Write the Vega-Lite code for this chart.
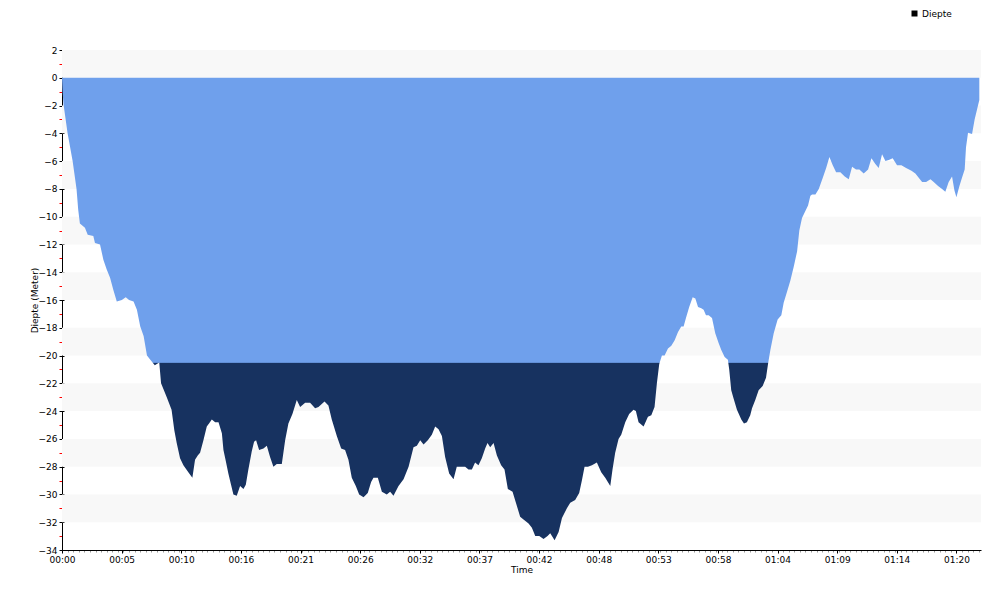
{
  "$schema": "https://vega.github.io/schema/vega-lite/v6.json",
  "width": 919,
  "height": 500,
  "autosize": "none",
  "padding": {"left": 62, "top": 50, "right": 19, "bottom": 50},
  "background": "white",
  "config": {
    "view": {"stroke": null},
    "font": "DejaVu Sans",
    "axis": {"labelFont": "DejaVu Sans", "titleFont": "DejaVu Sans", "labelFontSize": 9, "titleFontSize": 9, "titleFontWeight": "normal", "labelColor": "#000", "titleColor": "#000", "grid": false}
  },
  "datasets": {
    "bands": [
      {"lo": 0, "hi": 2}, {"lo": -4, "hi": -2}, {"lo": -8, "hi": -6}, {"lo": -12, "hi": -10},
      {"lo": -16, "hi": -14}, {"lo": -20, "hi": -18}, {"lo": -24, "hi": -22}, {"lo": -28, "hi": -26},
      {"lo": -32, "hi": -30}
    ],
    "profile": [
      {"t":0,"d":0},{"t":0.05,"d":-1.0},{"t":0.15,"d":-2.0},{"t":0.5,"d":-4.0},{"t":0.95,"d":-6.0},{"t":1.3,"d":-8.0},{"t":1.45,"d":-9.5},{"t":1.6,"d":-10.5},
      {"t":2.05,"d":-10.8},{"t":2.3,"d":-11.3},{"t":2.8,"d":-11.4},{"t":2.95,"d":-11.9},{"t":3.4,"d":-12.0},{"t":3.7,"d":-13.1},{"t":4.0,"d":-13.8},{"t":4.3,"d":-14.4},
      {"t":4.6,"d":-15.3},{"t":4.9,"d":-16.1},{"t":5.35,"d":-16.0},{"t":5.7,"d":-15.8},{"t":6.0,"d":-16.0},{"t":6.4,"d":-16.1},{"t":6.7,"d":-16.7},{"t":7.0,"d":-17.9},
      {"t":7.3,"d":-18.6},{"t":7.6,"d":-20.0},{"t":7.9,"d":-20.3},{"t":8.3,"d":-20.7},{"t":8.7,"d":-20.5},{"t":8.86,"d":-22.0},{"t":9.07,"d":-22.4},{"t":9.37,"d":-23.0},
      {"t":9.8,"d":-23.9},{"t":10.05,"d":-25.4},{"t":10.26,"d":-26.3},{"t":10.56,"d":-27.4},{"t":10.86,"d":-27.9},{"t":11.3,"d":-28.4},{"t":11.66,"d":-28.8},{"t":11.9,"d":-27.5},
      {"t":12.14,"d":-27.2},{"t":12.35,"d":-27.0},{"t":12.65,"d":-26.1},{"t":12.95,"d":-25.1},{"t":13.15,"d":-24.9},{"t":13.4,"d":-24.6},{"t":13.7,"d":-24.8},{"t":14.0,"d":-24.8},
      {"t":14.3,"d":-25.6},{"t":14.44,"d":-26.8},{"t":14.65,"d":-27.6},{"t":14.88,"d":-28.5},{"t":15.12,"d":-29.3},{"t":15.33,"d":-30.0},{"t":15.63,"d":-30.1},{"t":15.93,"d":-29.4},
      {"t":16.23,"d":-29.6},{"t":16.44,"d":-29.3},{"t":16.67,"d":-28.2},{"t":16.97,"d":-26.9},{"t":17.18,"d":-26.2},{"t":17.36,"d":-26.1},{"t":17.63,"d":-26.8},{"t":18.02,"d":-26.7},
      {"t":18.32,"d":-26.5},{"t":18.61,"d":-27.3},{"t":18.91,"d":-28.0},{"t":19.21,"d":-27.8},{"t":19.66,"d":-27.8},{"t":19.96,"d":-26.1},{"t":20.25,"d":-24.9},{"t":20.61,"d":-24.2},
      {"t":21.0,"d":-23.2},{"t":21.3,"d":-23.7},{"t":21.75,"d":-23.4},{"t":22.19,"d":-23.4},{"t":22.64,"d":-23.8},{"t":22.94,"d":-23.7},{"t":23.48,"d":-23.3},{"t":23.83,"d":-23.6},
      {"t":24.13,"d":-24.6},{"t":24.58,"d":-25.8},{"t":24.97,"d":-26.7},{"t":25.32,"d":-26.8},{"t":25.62,"d":-27.5},{"t":25.92,"d":-28.8},{"t":26.28,"d":-29.4},{"t":26.58,"d":-30.0},
      {"t":26.97,"d":-30.2},{"t":27.35,"d":-29.9},{"t":27.65,"d":-29.1},{"t":27.86,"d":-28.8},{"t":28.25,"d":-28.8},{"t":28.61,"d":-29.8},{"t":29.05,"d":-30.0},{"t":29.35,"d":-29.8},
      {"t":29.65,"d":-30.1},{"t":30.1,"d":-29.4},{"t":30.55,"d":-28.9},{"t":31.0,"d":-28.0},{"t":31.44,"d":-26.6},{"t":31.74,"d":-26.5},{"t":32.04,"d":-26.1},{"t":32.34,"d":-26.4},
      {"t":32.72,"d":-26.1},{"t":33.08,"d":-25.7},{"t":33.38,"d":-25.1},{"t":33.68,"d":-25.3},{"t":33.98,"d":-25.8},{"t":34.27,"d":-27.3},{"t":34.63,"d":-28.5},{"t":35.02,"d":-28.9},
      {"t":35.31,"d":-28.0},{"t":35.61,"d":-28.0},{"t":36.06,"d":-28.0},{"t":36.36,"d":-28.2},{"t":36.66,"d":-28.2},{"t":36.95,"d":-27.7},{"t":37.25,"d":-27.9},{"t":37.55,"d":-27.4},
      {"t":37.85,"d":-26.7},{"t":38.06,"d":-26.3},{"t":38.3,"d":-26.6},{"t":38.6,"d":-26.3},{"t":38.9,"d":-27.2},{"t":39.28,"d":-27.9},{"t":39.58,"d":-28.2},{"t":39.88,"d":-29.6},
      {"t":40.3,"d":-29.8},{"t":40.6,"d":-30.6},{"t":40.98,"d":-31.6},{"t":41.28,"d":-31.8},{"t":41.73,"d":-32.1},{"t":42.03,"d":-32.4},{"t":42.33,"d":-33.0},{"t":42.69,"d":-33.0},
      {"t":43.07,"d":-33.2},{"t":43.43,"d":-33.0},{"t":43.67,"d":-32.8},{"t":44.06,"d":-33.3},{"t":44.42,"d":-32.7},{"t":44.72,"d":-31.7},{"t":45.16,"d":-31.0},{"t":45.46,"d":-30.6},
      {"t":45.9,"d":-30.4},{"t":46.26,"d":-29.9},{"t":46.5,"d":-29.0},{"t":46.74,"d":-28.0},{"t":47.04,"d":-28.0},{"t":47.4,"d":-27.9},{"t":47.84,"d":-27.7},{"t":48.23,"d":-28.4},
      {"t":48.59,"d":-28.8},{"t":49.04,"d":-29.4},{"t":49.24,"d":-28.2},{"t":49.48,"d":-27.0},{"t":49.78,"d":-26.0},{"t":50.02,"d":-25.7},{"t":50.38,"d":-24.8},{"t":50.73,"d":-24.2},
      {"t":51.12,"d":-23.9},{"t":51.33,"d":-24.0},{"t":51.57,"d":-24.8},{"t":52.02,"d":-25.1},{"t":52.41,"d":-24.4},{"t":52.71,"d":-24.3},{"t":53.0,"d":-23.7},{"t":53.21,"d":-22.0},
      {"t":53.42,"d":-20.6},{"t":53.66,"d":-20.0},{"t":53.9,"d":-20.0},{"t":54.2,"d":-19.5},{"t":54.5,"d":-19.3},{"t":54.8,"d":-18.9},{"t":55.1,"d":-18.3},{"t":55.39,"d":-17.9},
      {"t":55.6,"d":-17.9},{"t":55.81,"d":-17.3},{"t":56.1,"d":-16.5},{"t":56.41,"d":-15.8},{"t":56.65,"d":-15.9},{"t":56.89,"d":-16.5},{"t":57.18,"d":-16.6},{"t":57.39,"d":-16.7},
      {"t":57.6,"d":-17.1},{"t":57.84,"d":-17.1},{"t":58.14,"d":-17.3},{"t":58.43,"d":-18.4},{"t":58.73,"d":-19.1},{"t":58.97,"d":-19.6},{"t":59.27,"d":-20.1},{"t":59.56,"d":-20.3},
      {"t":59.68,"d":-21.0},{"t":59.86,"d":-22.5},{"t":60.07,"d":-23.1},{"t":60.37,"d":-23.9},{"t":60.76,"d":-24.6},{"t":61.0,"d":-24.9},{"t":61.26,"d":-24.8},{"t":61.56,"d":-24.3},
      {"t":61.72,"d":-23.8},{"t":62.01,"d":-23.2},{"t":62.31,"d":-22.5},{"t":62.67,"d":-22.2},{"t":62.97,"d":-21.6},{"t":63.15,"d":-20.6},{"t":63.36,"d":-19.6},{"t":63.66,"d":-18.4},
      {"t":64.01,"d":-17.4},{"t":64.34,"d":-17.1},{"t":64.55,"d":-16.2},{"t":64.85,"d":-15.4},{"t":65.15,"d":-14.6},{"t":65.45,"d":-13.6},{"t":65.75,"d":-12.5},{"t":65.95,"d":-11.0},
      {"t":66.19,"d":-10.1},{"t":66.49,"d":-9.6},{"t":66.73,"d":-9.2},{"t":66.94,"d":-8.5},{"t":67.09,"d":-8.4},{"t":67.39,"d":-8.4},{"t":67.69,"d":-8.0},{"t":68.05,"d":-7.2},
      {"t":68.35,"d":-6.5},{"t":68.64,"d":-5.7},{"t":68.94,"d":-6.3},{"t":69.24,"d":-6.8},{"t":69.62,"d":-6.8},{"t":70.01,"d":-7.1},{"t":70.37,"d":-7.3},{"t":70.67,"d":-6.4},
      {"t":71.02,"d":-6.6},{"t":71.32,"d":-6.6},{"t":71.71,"d":-6.9},{"t":72.1,"d":-6.6},{"t":72.4,"d":-5.8},{"t":72.75,"d":-6.2},{"t":73.05,"d":-6.5},{"t":73.35,"d":-5.5},
      {"t":73.65,"d":-6.0},{"t":74.0,"d":-5.9},{"t":74.3,"d":-5.8},{"t":74.69,"d":-6.3},{"t":75.08,"d":-6.3},{"t":75.5,"d":-6.5},{"t":75.98,"d":-6.7},{"t":76.33,"d":-6.9},
      {"t":76.63,"d":-7.2},{"t":76.93,"d":-7.5},{"t":77.29,"d":-7.5},{"t":77.68,"d":-7.3},{"t":77.97,"d":-7.5},{"t":78.36,"d":-7.8},{"t":78.72,"d":-8.0},{"t":79.01,"d":-8.2},
      {"t":79.31,"d":-7.5},{"t":79.61,"d":-7.1},{"t":79.82,"d":-8.1},{"t":80.0,"d":-8.6},{"t":80.27,"d":-7.8},{"t":80.5,"d":-7.2},{"t":80.74,"d":-6.6},{"t":80.86,"d":-5.0},
      {"t":81.04,"d":-3.95},{"t":81.4,"d":-4.05},{"t":81.63,"d":-3.0},{"t":81.84,"d":-2.3},{"t":82.05,"d":-1.6}
    ]
  },
  "resolve": {"axis": {"x": "independent", "y": "independent"}},
  "layer": [
    {
      "data": {"name": "bands"},
      "mark": {"type": "rect", "fill": "#f8f8f8"},
      "encoding": {
        "y": {"field": "lo", "type": "quantitative", "scale": {"domain": [-34, 2], "nice": false, "zero": false}, "axis": null},
        "y2": {"field": "hi"}
      }
    },
    {
      "data": {"name": "profile"},
      "mark": {"type": "point", "filled": true, "opacity": 0},
      "encoding": {
        "x": {"field": "t", "type": "quantitative", "axis": {"orient": "bottom", "title": null, "labels": false, "domain": false, "tickCount": 164, "tickSize": 2, "tickColor": "#999"}},
        "y": {"field": "d", "type": "quantitative", "axis": {"orient": "left", "title": null, "labels": false, "domain": false, "values": [1,-1,-3,-5,-7,-9,-11,-13,-15,-17,-19,-21,-23,-25,-27,-29,-31,-33], "tickSize": 3, "tickColor": "#ff0000"}},
        "color": {"datum": "Diepte", "scale": {"range": ["#000000"]}, "legend": {"title": null, "orient": "none", "legendX": 848, "legendY": -41, "symbolType": "square", "symbolSize": 36, "symbolOpacity": 1, "symbolStrokeWidth": 0, "labelFont": "DejaVu Sans", "labelFontSize": 9, "labelColor": "#000", "labelOffset": 3}}
      }
    },
    {
      "mark": {"type": "rule", "color": "#9c9cff", "strokeDash": [2, 2], "strokeWidth": 1.5},
      "encoding": {"y": {"datum": -20.5, "type": "quantitative",
        "axis": {"orient": "left", "title": null, "labels": false, "domain": false, "tickSize": -2, "tickColor": "#000",
                 "values": [2,0,-2,-4,-6,-8,-10,-12,-14,-16,-18,-20,-22,-24,-26,-28,-30,-32,-34]}}}
    },
    {
      "data": {"name": "profile"},
      "mark": {
        "type": "area",
        "interpolate": "linear",
        "fill": {
          "gradient": "linear", "x1": 0, "y1": 0, "x2": 0, "y2": 1,
          "stops": [
            {"offset": 0, "color": "#6fa0ec"},
            {"offset": 0.6156, "color": "#6fa0ec"},
            {"offset": 0.6157, "color": "#173260"},
            {"offset": 1, "color": "#173260"}
          ]
        }
      },
      "encoding": {
        "x": {"field": "t", "type": "quantitative", "scale": {"domain": [0, 82.2], "nice": false, "zero": false},
              "axis": {"orient": "bottom", "title": "Time", "titlePadding": 1, "domainColor": "#000", "tickColor": "#000", "tickSize": 3, "labelPadding": 2, "labelFlush": false,
                       "values": [0, 5.3334, 10.6667, 16.0001, 21.3334, 26.6667, 32.0001, 37.3334, 42.6667, 48.0001, 53.3334, 58.6667, 64.0001, 69.3334, 74.6667, 80.0001],
                       "labelExpr": "(floor(datum.value/60) < 10 ? '0' : '') + floor(datum.value/60) + ':' + (floor(datum.value%60) < 10 ? '0' : '') + floor(datum.value%60)"}},
        "y": {"field": "d", "type": "quantitative",
              "axis": {"orient": "left", "title": "Diepte (Meter)", "titleX": -23, "titleY": 250, "titleAlign": "center", "titleAngle": 270, "titleBaseline": "bottom",
                       "domainColor": "#000", "tickColor": "#000", "tickSize": 3, "labelPadding": 2,
                       "values": [2,0,-2,-4,-6,-8,-10,-12,-14,-16,-18,-20,-22,-24,-26,-28,-30,-32,-34]}},
        "y2": {"datum": 0}
      }
    }
  ]
}
